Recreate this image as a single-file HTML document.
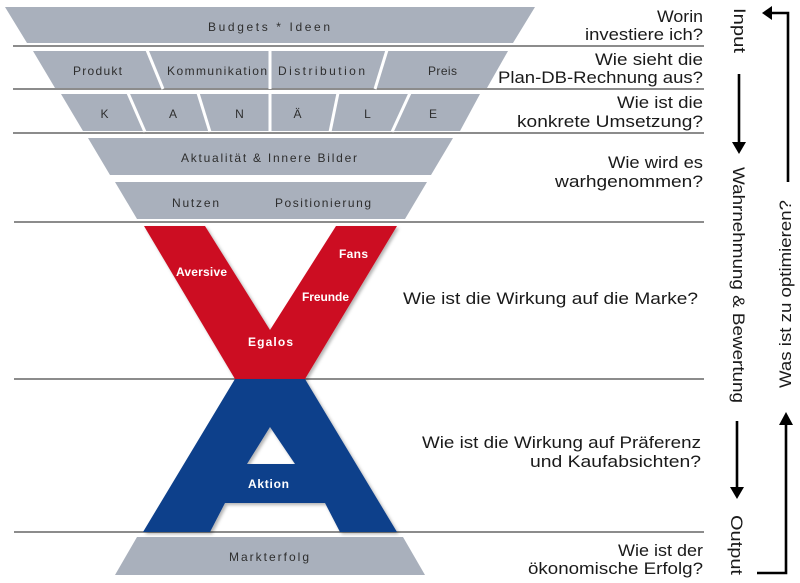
<!DOCTYPE html>
<html><head><meta charset="utf-8"><style>
html,body{margin:0;padding:0;background:#fff;}
svg{display:block;}
.lbl{font-family:"Liberation Sans",sans-serif;font-size:12px;fill:#2e2e2e;}
.wl{font-family:"Liberation Sans",sans-serif;font-size:12px;fill:#fff;font-weight:bold;}
.q{font-family:"Liberation Sans",sans-serif;font-size:17px;fill:#1a1a1a;}
</style></head><body>
<svg width="800" height="583" viewBox="0 0 800 583" xmlns="http://www.w3.org/2000/svg">
<defs>
<filter id="sh" x="-10%" y="-10%" width="120%" height="120%">
<feDropShadow dx="2" dy="2" stdDeviation="1.5" flood-color="#000" flood-opacity="0.3"/>
</filter>
</defs>
<!-- horizontal lines -->
<g stroke="#666" stroke-width="1.6">
<line x1="13" y1="46" x2="704" y2="46"/>
<line x1="13" y1="89" x2="704" y2="89"/>
<line x1="13" y1="133" x2="704" y2="133"/>
<line x1="14" y1="222" x2="704" y2="222"/>
<line x1="14" y1="379" x2="704" y2="379"/>
<line x1="14" y1="532" x2="704" y2="532"/>
</g>
<!-- gray trapezoids -->
<g fill="#a9b0bc">
<polygon points="5,7 535,7 513,43 27,43"/>
<polygon points="33,51 508,51 487,88 55,88"/>
<polygon points="61,94 480,94 460,131 83,131"/>
<polygon points="88,138 453,138 431,175 110,175"/>
<polygon points="115,182 427,182 405,219 137,219"/>
<polygon points="137,537 403,537 425,575 115,575"/>
</g>
<!-- dividers -->
<g stroke="#fff" stroke-width="3">
<line x1="147" y1="50" x2="163" y2="89"/>
<line x1="270" y1="50" x2="270" y2="89"/>
<line x1="387" y1="50" x2="375" y2="89"/>
<line x1="128" y1="93" x2="145" y2="132"/>
<line x1="198" y1="93" x2="210" y2="132"/>
<line x1="270" y1="93" x2="270" y2="132"/>
<line x1="338" y1="93" x2="330" y2="132"/>
<line x1="410" y1="93" x2="392" y2="132"/>
</g>
<!-- gray labels -->
<text class="lbl" x="208" y="31" textLength="122" lengthAdjust="spacing">Budgets  *  Ideen</text>
<text class="lbl" x="73" y="75" textLength="49" lengthAdjust="spacing">Produkt</text>
<text class="lbl" x="167" y="75" textLength="100" lengthAdjust="spacing">Kommunikation</text>
<text class="lbl" x="278" y="75" textLength="87" lengthAdjust="spacing">Distribution</text>
<text class="lbl" x="428" y="75" textLength="29" lengthAdjust="spacing">Preis</text>
<text class="lbl" x="104.5" y="118" text-anchor="middle">K</text>
<text class="lbl" x="173" y="118" text-anchor="middle">A</text>
<text class="lbl" x="239.5" y="118" text-anchor="middle">N</text>
<text class="lbl" x="297.5" y="118" text-anchor="middle">Ä</text>
<text class="lbl" x="367.5" y="118" text-anchor="middle">L</text>
<text class="lbl" x="433" y="118" text-anchor="middle">E</text>
<text class="lbl" x="181" y="162" textLength="176" lengthAdjust="spacing">Aktualität &amp; Innere Bilder</text>
<text class="lbl" x="172" y="207" textLength="47" lengthAdjust="spacing">Nutzen</text>
<text class="lbl" x="275" y="207" textLength="96" lengthAdjust="spacing">Positionierung</text>
<text class="lbl" x="229" y="561" textLength="80" lengthAdjust="spacing">Markterfolg</text>
<!-- V -->
<polygon filter="url(#sh)" fill="#cc0a22" points="144,226 205,226 270,330 336,226 397,226 305,379 235,379"/>
<!-- A -->
<path filter="url(#sh)" fill="#0c3f8b" fill-rule="evenodd" d="M235,379 L305,379 L397,532 L340,532 L325,503 L225,503 L210,532 L143,532 Z M270,427 L295,464 L247,464 Z"/>
<!-- white labels -->
<text class="wl" x="176" y="276" textLength="51" lengthAdjust="spacing">Aversive</text>
<text class="wl" x="339" y="258" textLength="29" lengthAdjust="spacing">Fans</text>
<text class="wl" x="302" y="301" textLength="47" lengthAdjust="spacing">Freunde</text>
<text class="wl" x="248" y="346" textLength="45" lengthAdjust="spacing">Egalos</text>
<text class="wl" x="248" y="488" textLength="41" lengthAdjust="spacing">Aktion</text>
<!-- questions -->
<g class="q" text-anchor="end">
<text x="703" y="22" textLength="46" lengthAdjust="spacingAndGlyphs">Worin</text>
<text x="703" y="40" textLength="118" lengthAdjust="spacingAndGlyphs">investiere ich?</text>
<text x="703" y="65" textLength="108" lengthAdjust="spacingAndGlyphs">Wie sieht die</text>
<text x="703" y="83" textLength="205" lengthAdjust="spacingAndGlyphs">Plan-DB-Rechnung aus?</text>
<text x="703" y="108" textLength="86" lengthAdjust="spacingAndGlyphs">Wie ist die</text>
<text x="703" y="127" textLength="186" lengthAdjust="spacingAndGlyphs">konkrete Umsetzung?</text>
<text x="703" y="168" textLength="95" lengthAdjust="spacingAndGlyphs">Wie wird es</text>
<text x="703" y="187" textLength="148" lengthAdjust="spacingAndGlyphs">warhgenommen?</text>
<text x="698" y="304" textLength="295" lengthAdjust="spacingAndGlyphs">Wie ist die Wirkung auf die Marke?</text>
<text x="701" y="448" textLength="279" lengthAdjust="spacingAndGlyphs">Wie ist die Wirkung auf Präferenz</text>
<text x="701" y="467" textLength="171" lengthAdjust="spacingAndGlyphs">und Kaufabsichten?</text>
<text x="703" y="556" textLength="85" lengthAdjust="spacingAndGlyphs">Wie ist der</text>
<text x="703" y="574" textLength="175" lengthAdjust="spacingAndGlyphs">ökonomische Erfolg?</text>
</g>
<!-- vertical texts -->
<g class="q" text-anchor="middle">
<text transform="translate(734,30.5) rotate(90)" textLength="45" lengthAdjust="spacingAndGlyphs">Input</text>
<text transform="translate(733,285) rotate(90)" textLength="236" lengthAdjust="spacingAndGlyphs">Wahrnehmung &amp; Bewertung</text>
<text transform="translate(731,545) rotate(90)" textLength="60" lengthAdjust="spacingAndGlyphs">Output</text>
<text transform="translate(791,294) rotate(-90)" textLength="188" lengthAdjust="spacingAndGlyphs">Was ist zu optimieren?</text>
</g>
<!-- arrows -->
<g stroke="#000" stroke-width="2.6" fill="none">
<polyline points="788,182 788,13 770,13"/>
<line x1="739" y1="74" x2="739" y2="144"/>
<line x1="737" y1="421" x2="737" y2="489"/>
<polyline points="757,573 786,573 786,423"/>
</g>
<g fill="#000">
<polygon points="762,13 772,6 772,20"/>
<polygon points="732,142 746,142 739,154"/>
<polygon points="730,487 744,487 737,499"/>
<polygon points="779,425 793,425 786,412"/>
</g>
</svg>
</body></html>
